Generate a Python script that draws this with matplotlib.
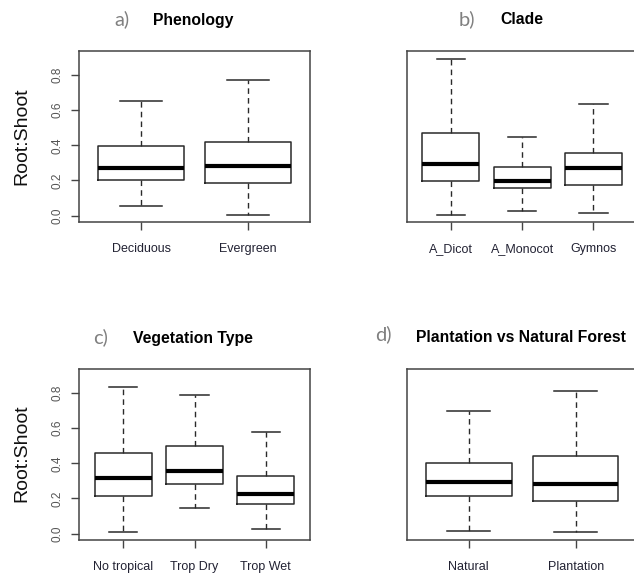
import matplotlib
matplotlib.use("Agg")
import matplotlib.pyplot as plt
from matplotlib.transforms import ScaledTranslation

# Root:Shoot summaries per group: lower whisker, Q1, median, Q3, upper whisker
phen_groups = ["Deciduous", "Evergreen"]
phen_whislo = [0.056, 0.006]
phen_q1 = [0.203, 0.188]
phen_med = [0.271, 0.284]
phen_q3 = [0.395, 0.421]
phen_whishi = [0.653, 0.770]

clade_groups = ["A_Dicot", "A_Monocot", "Gymnos"]
clade_whislo = [0.006, 0.024, 0.013]
clade_q1 = [0.196, 0.158, 0.175]
clade_med = [0.294, 0.198, 0.271]
clade_q3 = [0.472, 0.275, 0.359]
clade_whishi = [0.889, 0.446, 0.636]

veg_groups = ["No tropical", "Trop Dry", "Trop Wet"]
veg_whislo = [0.009, 0.148, 0.026]
veg_q1 = [0.212, 0.284, 0.166]
veg_med = [0.314, 0.357, 0.225]
veg_q3 = [0.460, 0.499, 0.329]
veg_whishi = [0.832, 0.789, 0.579]

forest_groups = ["Natural", "Plantation"]
forest_whislo = [0.015, 0.008]
forest_q1 = [0.212, 0.183]
forest_med = [0.291, 0.280]
forest_q3 = [0.403, 0.439]
forest_whishi = [0.696, 0.811]

y_ticks = [0.0, 0.2, 0.4, 0.6, 0.8]
y_range = (0.0, 0.9)

plt.rcParams["font.family"] = ["Liberation Sans", "DejaVu Sans"]

W, H = 634, 574
fig = plt.figure(figsize=(W / 100, H / 100), dpi=100)
fig.patch.set_facecolor("white")


def px_axes(left, top, width, height):
    return fig.add_axes([left / W, 1 - (top + height) / H, width / W, height / H])


def draw_panel(ax, groups, lo, q1, med, q3, hi, show_y):
    stats = []
    for i, g in enumerate(groups):
        stats.append(dict(label=g, whislo=lo[i], q1=q1[i], med=med[i],
                          q3=q3[i], whishi=hi[i], fliers=[]))
    n = len(groups)
    positions = list(range(1, n + 1))
    ax.bxp(stats, positions=positions, widths=0.8, capwidths=0.4,
           showfliers=False, patch_artist=False,
           boxprops=dict(color="#2a2a2a", linewidth=1.1),
           whiskerprops=dict(color="#2a2a2a", linewidth=1.0,
                             linestyle=(0, (4, 3))),
           capprops=dict(color="#2a2a2a", linewidth=1.1),
           medianprops=dict(color="black", linewidth=3.0))
    pad = 0.04 * n
    ax.set_xlim(0.5 - pad, n + 0.5 + pad)
    span = y_range[1] - y_range[0]
    ax.set_ylim(y_range[0] - 0.04 * span, y_range[1] + 0.04 * span)
    for s in ax.spines.values():
        s.set_color("#444444")
        s.set_linewidth(1.1)
    ax.set_xticks(positions)
    ax.set_xticklabels([])
    ax.tick_params(axis="x", length=6, width=1.0, color="#444444")
    # group names share a common baseline below the axis
    trans = ax.get_xaxis_transform() + ScaledTranslation(
        0, -30 / 100, fig.dpi_scale_trans)
    for x, g in zip(positions, groups):
        ax.text(x, 0, g, transform=trans, ha="center", va="baseline",
                fontsize=9, color="#222233", clip_on=False)
    if show_y:
        ax.set_yticks(y_ticks)
        ax.set_yticklabels([f"{v:.1f}" for v in y_ticks], rotation=90,
                           va="center")
        ax.tick_params(axis="y", length=6, width=1.0, color="#444444",
                       pad=5, labelsize=8.5, labelcolor="#555555")
    else:
        ax.set_yticks([])


ax_a = px_axes(79, 51, 231, 171)
draw_panel(ax_a, phen_groups, phen_whislo, phen_q1, phen_med, phen_q3,
           phen_whishi, True)
ax_b = px_axes(406.7, 51, 231, 171)
draw_panel(ax_b, clade_groups, clade_whislo, clade_q1, clade_med, clade_q3,
           clade_whishi, False)
ax_c = px_axes(79, 369, 231, 171)
draw_panel(ax_c, veg_groups, veg_whislo, veg_q1, veg_med, veg_q3,
           veg_whishi, True)
ax_d = px_axes(406.7, 369, 231, 171)
draw_panel(ax_d, forest_groups, forest_whislo, forest_q1, forest_med,
           forest_q3, forest_whishi, False)


def fig_text(x, y, s, **kw):
    fig.text(x / W, 1 - y / H, s, **kw)


letter_style = dict(fontsize=14.5, color="#808080", family="Lato",
                    ha="center", va="center")
title_style = dict(fontsize=11.3, fontweight="bold", color="black",
                   family="Liberation Sans", ha="center", va="center")

fig_text(121.5, 19, "a)", **letter_style)
fig_text(193, 20, "Phenology", **title_style)
fig_text(466.5, 19, "b)", **letter_style)
fig_text(521.5, 20, "Clade", **title_style)
fig_text(100.5, 337, "c)", **letter_style)
fig_text(193, 338, "Vegetation Type", **title_style)
fig_text(383, 334, "d)", **letter_style)
fig_text(521.5, 337, "Plantation vs Natural Forest", **title_style)

ylab_style = dict(fontsize=14, color="#111111", family="Liberation Sans",
                  rotation=90, ha="center", va="center")
fig_text(21.5, 136, "Root:Shoot", **ylab_style)
fig_text(21.5, 453, "Root:Shoot", **ylab_style)

fig.savefig("out.png", dpi=100, facecolor="white")
